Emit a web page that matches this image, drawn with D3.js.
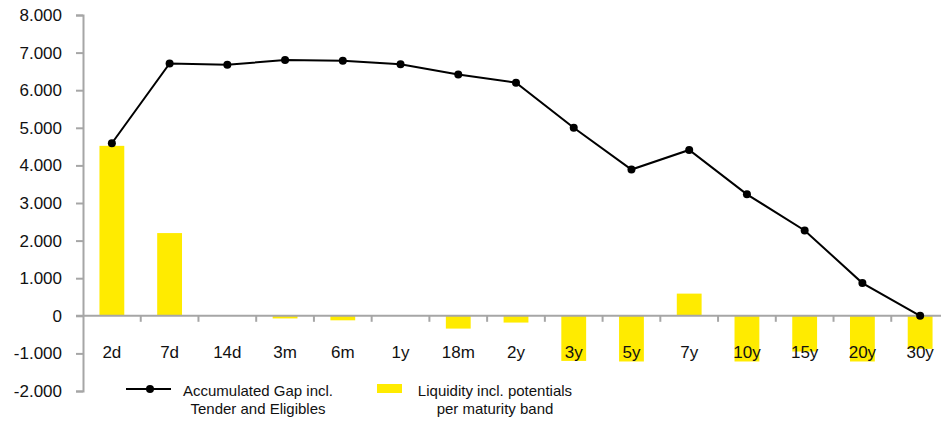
<!DOCTYPE html>
<html>
<head>
<meta charset="utf-8">
<script src="https://cdn.jsdelivr.net/npm/d3@7"></script>
<style>
  body { margin: 0; background: #fff; }
  svg { display: block; font-family: "Liberation Sans", Arial, Helvetica, sans-serif; }
</style>
</head>
<body>
<svg id="mainFrame"></svg>
<script>
// maturity bands
const bands = ['2d', '7d', '14d', '3m', '6m', '1y', '18m', '2y', '3y', '5y', '7y', '10y', '15y', '20y', '30y']
// Liquidity incl. potentials per maturity band (bars)
const liquidity = [4520, 2200, 0, -70, -120, 0, -340, -180, -1200, -1215, 590, -1215, -950, -1215, -880]
// Accumulated Gap incl. Tender and Eligibles (line)
const accGap = [4590, 6710, 6680, 6800, 6780, 6690, 6420, 6200, 5000, 3890, 4410, 3230, 2270, 870, 0]
const yTicks = [-2000, -1000, 0, 1000, 2000, 3000, 4000, 5000, 6000, 7000, 8000]

const width = 941, height = 421
const svg = d3.select('#mainFrame')
    .attr('width', width)
    .attr('height', height)

const axisGrey = '#a6a6a6'
const yellow = '#ffeb00'

const x = d3.scaleBand()
    .domain(bands)
    .range([83, 949])
    .paddingInner(0.57)
    .paddingOuter(0.285)

const y = d3.scaleLinear()
    .domain([-2000, 8000])
    .range([391, 15])

// german style thousands separator, plain hyphen for negatives
const locale = d3.formatLocale({decimal: ',', thousands: '.', grouping: [3], currency: ['', ''], minus: '-'})
const fmt = locale.format(',')

// bars
svg.append('g').selectAll('rect')
    .data(bands.map((b, i) => ({band: b, value: liquidity[i]})))
    .join('rect')
    .attr('x', d => x(d.band))
    .attr('width', x.bandwidth())
    .attr('y', d => y(Math.max(0, d.value)))
    .attr('height', d => Math.abs(y(d.value) - y(0)))
    .attr('fill', yellow)

// y axis
const yAxis = svg.append('g')
    .attr('transform', 'translate(83,0)')
    .call(d3.axisLeft(y).tickValues(yTicks).tickFormat(fmt).tickSize(7).tickPadding(14))
yAxis.select('.domain').attr('stroke', axisGrey).attr('stroke-width', 2)
yAxis.selectAll('.tick line').attr('stroke', axisGrey).attr('stroke-width', 2)
yAxis.selectAll('.tick text').attr('font-size', 17).attr('fill', '#111').attr('font-family', null)

// x axis line + separator ticks
const xAxisY = y(0)
svg.append('line')
    .attr('x1', 76).attr('x2', width)
    .attr('y1', xAxisY).attr('y2', xAxisY)
    .attr('stroke', axisGrey).attr('stroke-width', 2)

const step = x.step()
svg.append('g').selectAll('line')
    .data(bands.slice(1))
    .join('line')
    .attr('x1', d => x(d) + x.bandwidth() / 2 - step / 2)
    .attr('x2', d => x(d) + x.bandwidth() / 2 - step / 2)
    .attr('y1', xAxisY)
    .attr('y2', xAxisY + 6)
    .attr('stroke', axisGrey).attr('stroke-width', 2)

// category labels
svg.append('g').selectAll('text')
    .data(bands)
    .join('text')
    .attr('x', d => x(d) + x.bandwidth() / 2)
    .attr('y', 358)
    .attr('text-anchor', 'middle')
    .attr('font-size', 17)
    .attr('fill', '#111')
    .text(d => d)

// line
const cx = d => x(d.band) + x.bandwidth() / 2
const lineData = bands.map((b, i) => ({band: b, value: accGap[i]}))
svg.append('path')
    .datum(lineData)
    .attr('fill', 'none')
    .attr('stroke', '#000')
    .attr('stroke-width', 2)
    .attr('d', d3.line().x(cx).y(d => y(d.value)))

svg.append('g').selectAll('circle')
    .data(lineData)
    .join('circle')
    .attr('cx', cx)
    .attr('cy', d => y(d.value))
    .attr('r', 4)
    .attr('fill', '#000')

// legend
const legend = svg.append('g').attr('font-size', 15).attr('fill', '#111')
legend.append('line')
    .attr('x1', 126).attr('x2', 171).attr('y1', 389).attr('y2', 389)
    .attr('stroke', '#000').attr('stroke-width', 2)
legend.append('circle').attr('cx', 150).attr('cy', 389).attr('r', 4).attr('fill', '#000')
legend.append('text').attr('x', 258).attr('y', 396).attr('text-anchor', 'middle').text('Accumulated Gap incl.')
legend.append('text').attr('x', 258).attr('y', 414).attr('text-anchor', 'middle').text('Tender and Eligibles')

legend.append('rect')
    .attr('x', 377).attr('y', 384).attr('width', 25).attr('height', 9)
    .attr('fill', yellow)
legend.append('text').attr('x', 495).attr('y', 396).attr('text-anchor', 'middle').text('Liquidity incl. potentials')
legend.append('text').attr('x', 495).attr('y', 414).attr('text-anchor', 'middle').text('per maturity band')
</script>
</body>
</html>
